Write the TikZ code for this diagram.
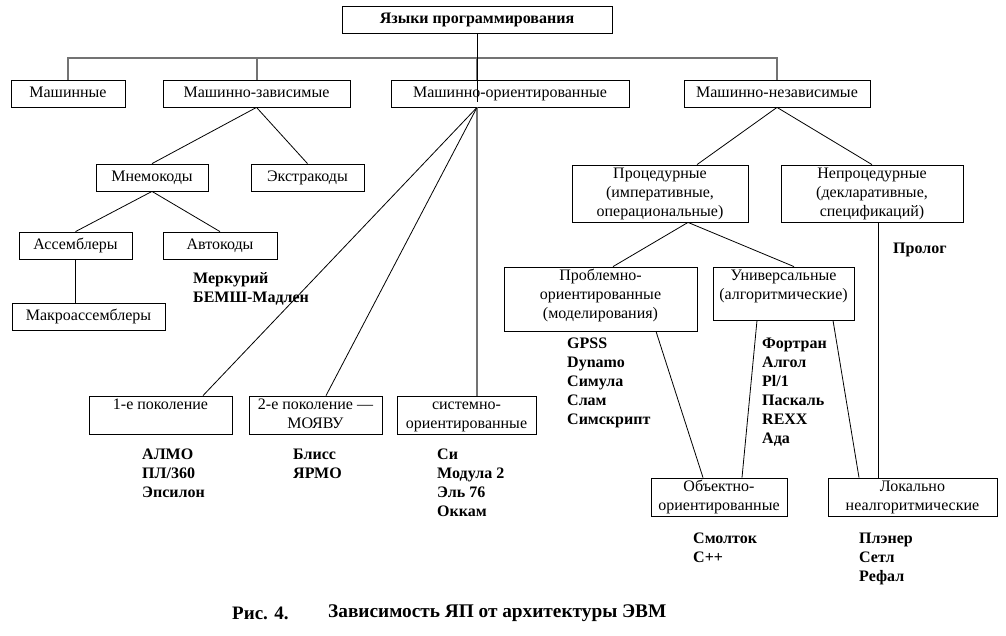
\documentclass[tikz,border=0pt]{standalone}
\usepackage{fontspec}
\setmainfont{Liberation Serif}
\usepackage{tikz}
\usetikzlibrary{positioning}

\begin{document}
\begin{tikzpicture}[x=1pt,y=-1pt,-,
				thin,box/.style={rectangle,draw,line width=0.8pt,inner sep=0pt,
					align=center,font=\fontsize{16}{19}\selectfont,
					execute at end node=\strut},
				lang/.style={inner sep=0pt,align=left,anchor=north west,
					font=\fontsize{16}{19}\selectfont\bfseries},
				bus/.style={draw=black!55,line width=2pt}]
				\useasboundingbox (0,0) rectangle (1006,635);
				
				% top level
				\node[box,minimum width=270pt,minimum height=27pt,font=\fontsize{16}{19}\selectfont\bfseries] (title) at (477,19.5) {\strut Языки программирования};
				\node[box,minimum width=114pt,minimum height=27pt] (mach) at (68,93.5) {\strut Машинные};
				\node[box,minimum width=187pt,minimum height=27pt] (mzav) at (256.5,93.5) {\strut Машинно-зависимые};
				\node[box,minimum width=238pt,minimum height=27pt] (mor) at (510,93.5) {\strut Машинно-ориентированные};
				\node[box,minimum width=186pt,minimum height=27pt] (mnez) at (777,93.5) {\strut Машинно-независимые};
				
				% machine dependent branch
				\node[box,minimum width=112pt,minimum height=27pt] (mnem) at (152,177.5) {\strut Мнемокоды};
				\node[box,minimum width=113pt,minimum height=27pt] (extr) at (307.5,177.5) {\strut Экстракоды};
				\node[box,minimum width=113pt,minimum height=27pt] (asm) at (75.5,245.5) {\strut Ассемблеры};
				\node[box,minimum width=114pt,minimum height=27pt] (avto) at (220,245.5) {\strut Автокоды};
				\node[box,minimum width=153pt,minimum height=27pt] (macro) at (88.5,316.5) {\strut Макроассемблеры};
				
				% machine oriented branch
				\node[box,minimum width=143pt,minimum height=38pt] (gen1) at (160.5,415) {\strut 1-е поколение\\\mbox{}};
				\node[box,minimum width=133pt,minimum height=38pt] (gen2) at (315.5,415) {\strut 2-е поколение ---\\МОЯВУ};
				\node[box,minimum width=139pt,minimum height=38pt] (sys) at (466.5,415) {\strut системно-\\ориентированные};
				
				% machine independent branch
				\node[box,minimum width=176pt,minimum height=57pt] (proc) at (660,193.5) {\strut Процедурные\\(императивные,\\операциональные)};
				\node[box,minimum width=182pt,minimum height=57pt] (nproc) at (872,193.5) {\strut Непроцедурные\\(декларативные,\\спецификаций)};
				\node[box,minimum width=193pt,minimum height=64pt] (probl) at (600.5,299) {\strut Проблемно-\\ориентированные\\(моделирования)\\[-12pt]\mbox{}};
				\node[box,minimum width=141pt,minimum height=53pt] (univ) at (783.5,293.5) {\strut Универсальные\\(алгоритмические)\\[-4pt]\mbox{}};
				\node[box,minimum width=136pt,minimum height=38pt] (oop) at (719,497) {\strut Объектно-\\ориентированные};
				\node[box,minimum width=169pt,minimum height=38pt] (local) at (912.5,497) {\strut Локально\\неалгоритмические};
				
				% language lists
				\node[lang] (l-avto) at (193,272) {Меркурий\\БЕМШ-Мадлен};
				\node[lang] (l-gen1) at (142,449) {АЛМО\\ПЛ/360\\Эпсилон};
				\node[lang] (l-gen2) at (293,449) {Блисс\\ЯРМО};
				\node[lang] (l-sys) at (437,449) {Си\\Модула 2\\Эль 76\\Оккам};
				\node[lang] (l-probl) at (567,338) {GPSS\\Dynamo\\Симула\\Слам\\Симскрипт};
				\node[lang] (l-univ) at (762,338) {Фортран\\Алгол\\Pl/1\\Паскаль\\REXX\\Ада};
				\node[lang] (l-nproc) at (893,243) {Пролог};
				\node[lang] (l-oop) at (693,533) {Смолток\\C++};
				\node[lang] (l-local) at (859,533) {Плэнер\\Сетл\\Рефал};
				
				% caption
				\node[lang,anchor=west,font=\fontsize{19}{22}\selectfont\bfseries] (fig) at (232,613) {Рис. 4.};
				\node[lang,anchor=west,font=\fontsize{19.3}{22}\selectfont\bfseries] (cap) at (328,613) {Зависимость ЯП от архитектуры ЭВМ};
				
				\coordinate (mor-n) at (title.south |- mor.north);
				\coordinate (mor-s) at (title.south |- mor.south);
				
				\draw[bus] (mach.north) -- ++(0,-22) -| (mnez.north);
				\draw[bus] (mzav.north) -- ++(0,-22);
				\draw[bus] (mor-n) -- ++(0,-22);
				\draw[bus] (mor-s) -- (mor-s |- sys.north);
				\path[draw,line width=0.8pt]
				(title.south) edge ([yshift=-22pt]mor-n)
				(mzav.south) edge (mnem.north)
				(mzav.south) edge (extr.north)
				(mnem.south) edge (asm.north)
				(mnem.south) edge (avto.north)
				(asm.south) edge (asm.south |- macro.north)
				(mor-s) edge ([xshift=42.5pt]gen1.north)
				(mor-s) edge ([xshift=10.5pt]gen2.north)
				(mnez.south) edge ([xshift=37pt]proc.north)
				(mnez.south) edge (nproc.north)
				([xshift=28pt]proc.south) edge ([xshift=12.5pt]probl.north)
				([xshift=28pt]proc.south) edge ([xshift=10.5pt]univ.north)
				([xshift=55.5pt]probl.south) edge ([xshift=-16pt]oop.north)
				([xshift=-26.5pt]univ.south) edge ([xshift=23pt]oop.north)
				([xshift=49.5pt]univ.south) edge ([xshift=-53.5pt]local.north)
				([xshift=6pt]nproc.south) edge ([xshift=-34.5pt]local.north);
			\end{tikzpicture}
\end{document}
